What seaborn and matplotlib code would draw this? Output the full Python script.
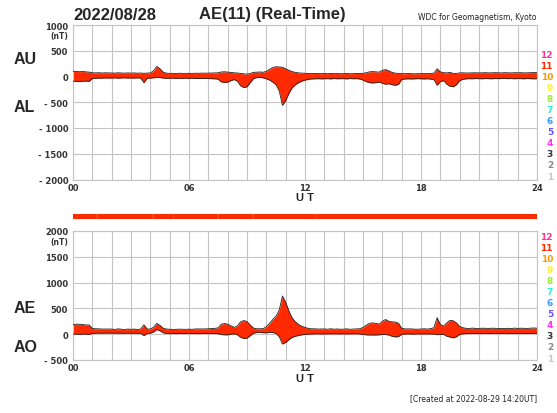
import numpy as np
import pandas as pd
import matplotlib
matplotlib.use("Agg")
import matplotlib.pyplot as plt
import seaborn as sns

# --- text ---------------------------------------------------------------
date_label = "2022/08/28"
title_label = "AE(11) (Real-Time)"
source_label = "WDC for Geomagnetism, Kyoto"
created_label = "[Created at 2022-08-29 14:20UT]"
x_tick_labels = {0: "00", 6: "06", 12: "12", 18: "18", 24: "24"}
top_yticks = [1000, 500, 0, -500, -1000, -1500, -2000]
bottom_yticks = [2000, 1500, 1000, 500, 0, -500]
station_counts = [12, 11, 10, 9, 8, 7, 6, 5, 4, 3, 2, 1]
station_colors = ["#ff3399", "#ff2a00", "#ff9900", "#ffee33", "#99ee33", "#33eecc",
                  "#3399ff", "#6655ff", "#ff33ee", "#333333", "#888888", "#c8c8c8"]

# --- AU / AL, 10-minute values (nT), 00:00 .. 24:00 ---------------------
au = [
    95, 100, 92, 98, 90, 85,        # 00
    72, 70, 74, 68, 72, 70,         # 01
    70, 66, 72, 68, 65, 70,         # 02
    66, 70, 64, 68, 62, 66,         # 03
    70, 110, 195, 150, 85, 65,      # 04
    60, 62, 58, 64, 60, 62,         # 05
    62, 60, 64, 62, 66, 64,         # 06
    66, 70, 68, 72, 88, 92,         # 07
    85, 80, 72, 68, 60, 50,         # 08
    45, 60, 80, 85, 88, 82,         # 09
    100, 140, 175, 190, 185, 180,   # 10
    150, 120, 95, 80, 70, 65,       # 11
    62, 58, 56, 60, 58, 55,         # 12
    58, 54, 60, 56, 58, 54,         # 13
    56, 58, 54, 56, 60, 58,         # 14
    60, 75, 90, 95, 90, 85,         # 15
    120, 135, 110, 80, 65, 60,      # 16
    55, 55, 58, 55, 52, 55,         # 17
    55, 58, 55, 60, 65, 150,        # 18
    90, 75, 70, 80, 60, 60,         # 19
    70, 72, 68, 70, 74, 72,         # 20
    70, 72, 74, 70, 72, 74,         # 21
    72, 70, 74, 72, 70, 74,         # 22
    72, 74, 70, 72, 74, 76,         # 23
    74,                             # 24
]
al = [
    -90, -95, -100, -92, -88, -95,      # 00
    -40, -35, -30, -32, -28, -30,       # 01
    -30, -26, -32, -28, -25, -30,       # 02
    -28, -30, -26, -32, -120, -35,      # 03
    -30, -25, -15, -20, -30, -35,       # 04
    -35, -30, -38, -34, -36, -32,       # 05
    -36, -34, -38, -40, -36, -38,       # 06
    -40, -42, -45, -50, -105, -115,     # 07
    -110, -80, -60, -90, -180, -215,    # 08
    -200, -120, -40, -20, -18, -25,     # 09
    -45, -70, -110, -160, -280, -560,   # 10
    -470, -330, -220, -160, -120, -90,  # 11
    -70, -55, -48, -45, -42, -46,       # 12
    -44, -42, -46, -40, -44, -42,       # 13
    -42, -46, -40, -44, -42, -48,       # 14
    -70, -100, -120, -125, -120, -110,  # 15
    -130, -150, -140, -160, -170, -155, # 16
    -60, -48, -45, -48, -45, -42,       # 17
    -45, -48, -44, -50, -60, -170,      # 18
    -100, -80, -150, -190, -200, -160,  # 19
    -80, -55, -45, -42, -44, -40,       # 20
    -42, -44, -40, -42, -44, -40,       # 21
    -42, -40, -38, -42, -40, -44,       # 22
    -40, -42, -44, -40, -42, -45,       # 23
    -42,                                # 24
]
# hours (UT) where only 10 stations reported
ten_station_hours = [1.25, 4.15, 5.2, 7.5, 9.3, 12.6]

df = pd.DataFrame({"ut": np.arange(len(au)) / 6.0, "AU": au, "AL": al})
df["AE"] = df["AU"] - df["AL"]
df["AO"] = (df["AU"] + df["AL"]) / 2.0

# --- style --------------------------------------------------------------
sns.set_style("white")
plt.rcParams["font.family"] = ["Liberation Sans", "DejaVu Sans"]

W, H = 557, 414
fig = plt.figure(figsize=(W / 100, H / 100), dpi=100)


def fx(x):
    return x / W


def fy(y):
    return 1 - y / H


RED = "#ff2a00"
GRID = "#c4c4c4"
TICK = "#333333"

ax1 = fig.add_axes([fx(73), fy(180.5), fx(537) - fx(73), (180.5 - 26) / H])
axbar = fig.add_axes([fx(73), fy(220), fx(537) - fx(73), 5.5 / H])
ax2 = fig.add_axes([fx(73), fy(361), fx(537) - fx(73), (361 - 232) / H])


def style_axes(ax, yticks, ylim):
    ax.set_xlim(0, 24)
    ax.set_ylim(*ylim)
    ax.set_xticks(range(25))
    ax.set_xticklabels([x_tick_labels.get(h, "") for h in range(25)])
    ax.set_yticks(yticks)
    ax.set_yticklabels([f"- {abs(v)}" if v < 0 else str(v) for v in yticks])
    ax.grid(True, color=GRID, linewidth=0.8)
    ax.tick_params(length=0, labelsize=6, colors=TICK, pad=3.5)
    ax.tick_params(axis="x", pad=2.5)
    for lab in ax.get_xticklabels() + ax.get_yticklabels():
        lab.set_fontweight("bold")
        lab.set_family("DejaVu Sans")
    for sp in ax.spines.values():
        sp.set_color(GRID)
        sp.set_linewidth(0.8)
    ax.set_xlabel("")
    ax.set_ylabel("")
    ax.set_axisbelow(True)


# upper panel: AU / AL envelope
ax1.fill_between(df["ut"], df["AL"], df["AU"], color=RED, linewidth=0, zorder=2)
sns.lineplot(data=df, x="ut", y="AU", ax=ax1, color="#222222", linewidth=0.6, zorder=3)
sns.lineplot(data=df, x="ut", y="AL", ax=ax1, color="#222222", linewidth=0.6, zorder=3)
style_axes(ax1, top_yticks, (-2000, 1000))

# lower panel: AE / AO envelope
ax2.fill_between(df["ut"], df["AO"], df["AE"], color=RED, linewidth=0, zorder=2)
sns.lineplot(data=df, x="ut", y="AE", ax=ax2, color="#222222", linewidth=0.6, zorder=3)
sns.lineplot(data=df, x="ut", y="AO", ax=ax2, color="#222222", linewidth=0.6, zorder=3)
style_axes(ax2, bottom_yticks, (-500, 2000))

# station-count strip
axbar.set_xlim(0, 24)
axbar.set_ylim(0, 1)
axbar.axvspan(0, 24, color=RED, linewidth=0)
for h in ten_station_hours:
    axbar.axvspan(h - 0.04, h + 0.04, color="#ff4a14", linewidth=0)
axbar.set_axis_off()

# --- labels -------------------------------------------------------------
fig.text(fx(73), fy(15), date_label, fontsize=12, fontweight="bold", va="center", ha="left")
fig.text(fx(199), fy(15), title_label, fontsize=12, fontweight="bold", va="center", ha="left")
fig.text(fx(537), fy(18), source_label, fontsize=5.5, va="center", ha="right",
         family="DejaVu Sans", color="#222222")
fig.text(fx(537), fy(399), created_label, fontsize=5.5, va="center", ha="right",
         family="DejaVu Sans", color="#222222")

for name, y in [("AU", 59), ("AL", 107), ("AE", 309), ("AO", 348)]:
    fig.text(fx(14), fy(y), name, fontsize=11.5, fontweight="bold", va="center", ha="left")

for y in (37, 243):
    fig.text(fx(68.5), fy(y), "(nT)", fontsize=5.5, fontweight="bold", va="center", ha="right",
             family="DejaVu Sans", color=TICK)

for y in (198, 379):
    fig.text(fx(305), fy(y), "U T", fontsize=8, fontweight="bold", va="center", ha="center")

for y0 in (55.5, 237.5):
    for i, (n, c) in enumerate(zip(station_counts, station_colors)):
        fig.text(fx(553), fy(y0 + i * 11.05), str(n), fontsize=6.5, fontweight="bold",
                 color=c, va="center", ha="right", family="DejaVu Sans")

fig.savefig("out.png", dpi=100)
